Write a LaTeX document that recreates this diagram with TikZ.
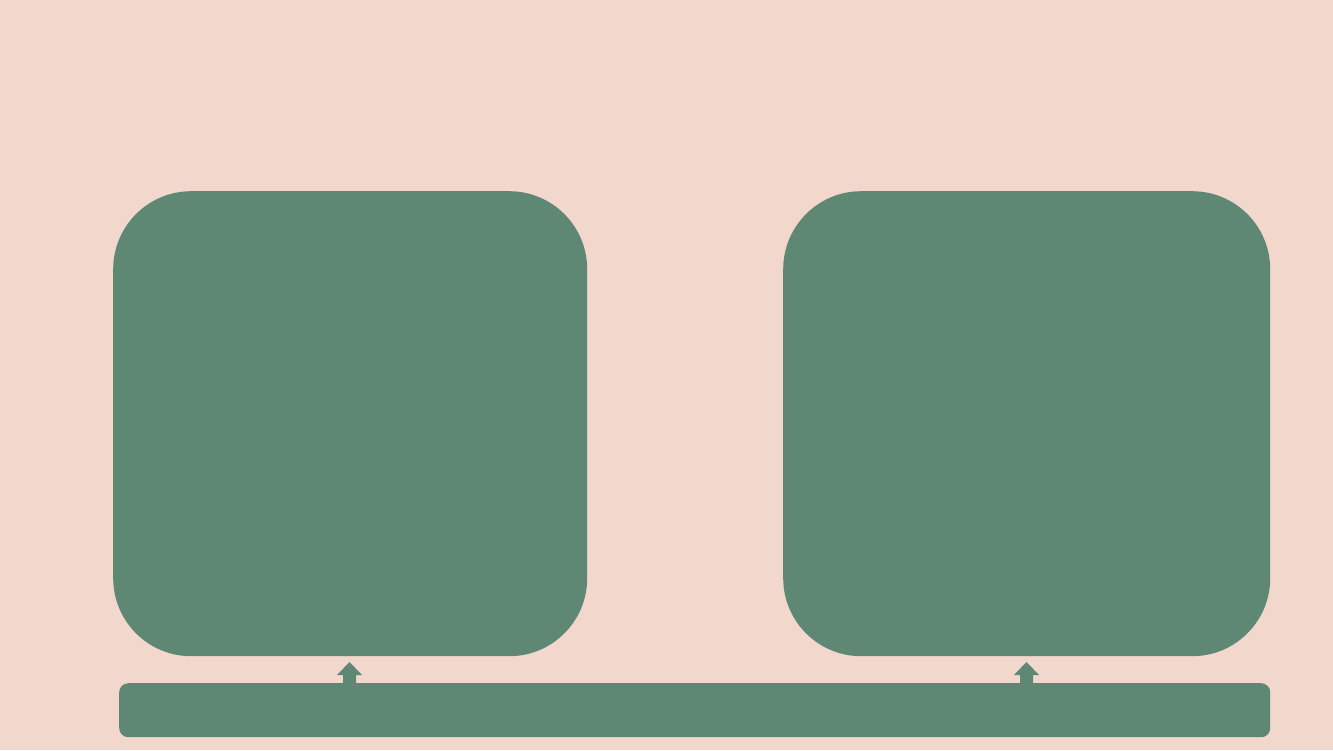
\documentclass[tikz,border=0pt]{standalone}
\usetikzlibrary{positioning}
\definecolor{bgpink}{RGB}{242,215,204}
\definecolor{boxgreen}{RGB}{94,136,116}
\begin{document}
\begin{tikzpicture}[x=1pt,y=-1pt,
  bigbox/.style={fill=boxgreen, draw=none, rounded corners=78pt, inner sep=0pt, anchor=north west},
  barbox/.style={fill=boxgreen, draw=none, rounded corners=9pt, inner sep=0pt, anchor=north west},
  uparrow/.style={fill=boxgreen, draw=none}]
\fill[bgpink] (0,0) rectangle (1333,750);
\useasboundingbox (0,0) rectangle (1333,750);
\node[bigbox, minimum width=474pt, minimum height=465pt] (left) at (113,191) {};
\node[bigbox, minimum width=487pt, minimum height=465pt] (right) at (783,191) {};
\node[barbox, minimum width=1151pt, minimum height=54pt] (bar) at (119,683) {};
\coordinate (a1) at (bar.north -| 349.5,0);
\coordinate (a2) at (bar.north -| 1026.5,0);
\foreach \a in {a1,a2}{
  \fill[uparrow] (\a) ++(-6.5,0.5) -- ++(0,-8.5) -- ++(-6,0) -- ++(12.5,-13) -- ++(12.5,13) -- ++(-6,0) -- ++(0,8.5) -- cycle;
}
\end{tikzpicture}
\end{document}
